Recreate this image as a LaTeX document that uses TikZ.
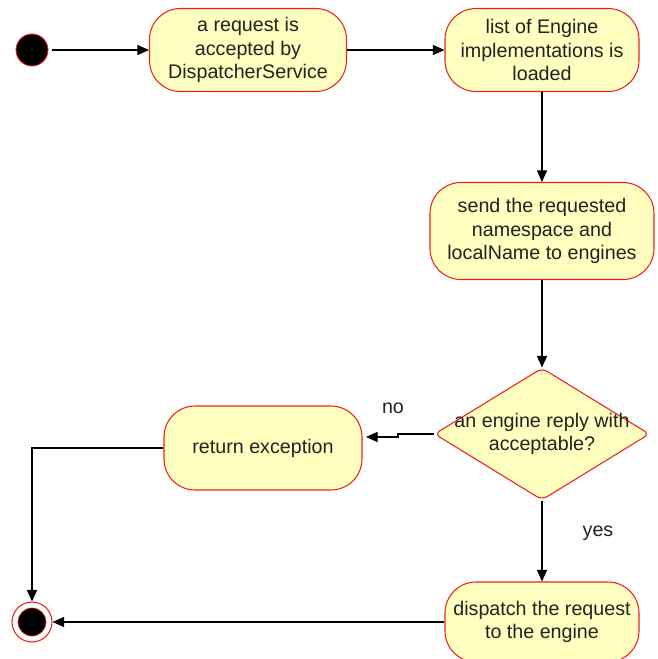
\documentclass[tikz,border=0pt]{standalone}
\usepackage{fontspec}
\setmainfont{Liberation Sans}
\usetikzlibrary{arrows.meta,shapes.geometric}
\definecolor{actfill}{RGB}{255,255,192}
\definecolor{actline}{RGB}{240,30,30}
\definecolor{txt}{RGB}{34,34,34}

\tikzset{
	act/.style={draw=actline, fill=actfill, rounded corners=0.62cm, line width=0.6pt,
		align=center, text=txt, font=\fontsize{11.2}{13.2}\selectfont, inner sep=0pt},
	decide/.style={diamond, draw=actline, fill=actfill, line width=0.6pt, rounded corners=0.12cm,
		align=center, text=txt, font=\fontsize{11.2}{13.2}\selectfont, inner sep=-0.3cm, aspect=1.63,
		minimum width=4.3cm, minimum height=2.64cm},
	flow/.style={-{Triangle[length=2.3mm,width=2mm]}, line width=0.6pt, black},
	lbl/.style={text=txt, font=\fontsize{11.2}{13.2}\selectfont}
}

\begin{document}
\begin{tikzpicture}
	\useasboundingbox (0,0) rectangle (13.16,-13.18);
	% start and end
	\node[circle, fill=black, draw=actline, line width=0.5pt, minimum size=0.64cm, inner sep=0pt] (start) at (0.64,-1.0) {};
	\node[circle, fill=white, draw=actline, line width=0.6pt, minimum size=0.8cm, inner sep=0pt] (end) at (0.64,-12.44) {};
	\node[circle, fill=black, draw=actline, line width=0.4pt, minimum size=0.56cm, inner sep=0pt] (endin) at (end) {};
	% activities
	\node[act, minimum width=3.94cm, minimum height=1.66cm] (accept) at (4.96,-1.0) {a request is\\accepted by\\DispatcherService};
	\node[act, minimum width=3.88cm, minimum height=1.66cm] (load) at (10.84,-1.0) {list of Engine\\implementations is\\loaded};
	\node[act, minimum width=4.48cm, minimum height=1.94cm] (send) at (10.84,-4.62) {send the requested\\namespace and\\localName to engines};
	\node[decide] (reply) at (10.84,-8.68) {an engine reply with\\acceptable?};
	\node[act, minimum width=3.96cm, minimum height=1.68cm] (except) at (5.26,-8.96) {return exception};
	\node[act, minimum width=3.88cm, minimum height=1.6cm] (dispatch) at (10.84,-12.44) {dispatch the request\\to the engine};
	% labels
	\node[lbl] (no) at (7.86,-8.16) {no};
	\node[lbl] (yes) at (11.96,-10.66) {yes};
	\coordinate (jog) at (7.96,-8.74);
	% connectors
	\draw[flow] ([xshift=2pt]start.east) -- (accept.west);
	\draw[flow] (accept.east) -- (load.west);
	\draw[flow] (load.south) -- (send.north);
	\draw[flow] (send.south) -- (reply.north);
	\draw[flow] (reply.west) -- (reply.west -| jog) -- (jog) -- ([xshift=2pt]jog -| except.east);
	\draw[flow] (reply.south) -- (dispatch.north);
	\draw[flow] (except.west) -| (end.north);
	\draw[flow] (dispatch.west) -- (end.east);
\end{tikzpicture}
\end{document}
